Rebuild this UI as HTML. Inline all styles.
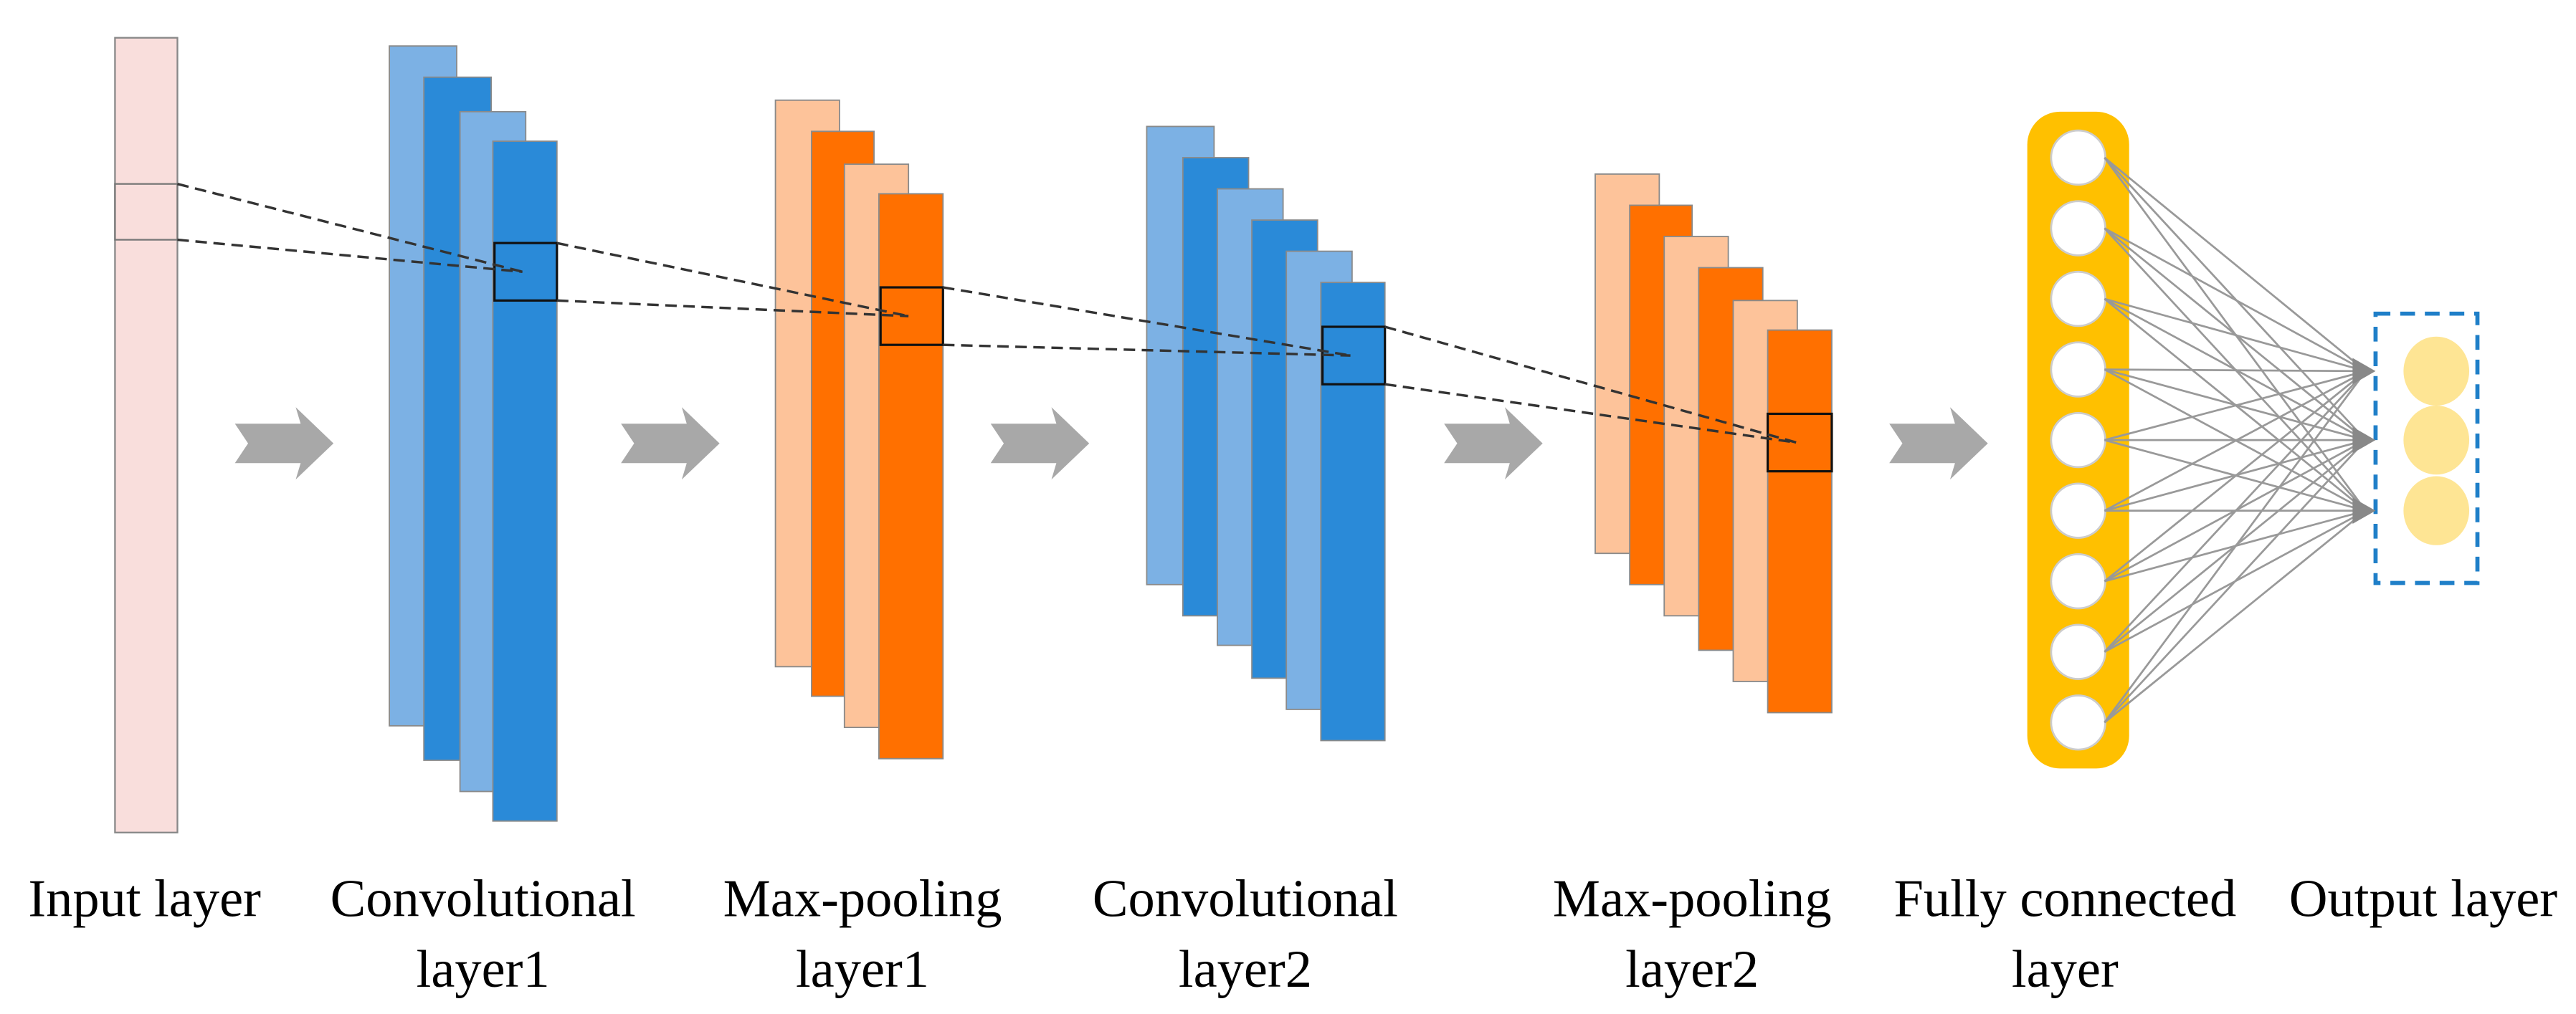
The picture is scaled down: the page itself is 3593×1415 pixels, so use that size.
<!DOCTYPE html>
<html><head><meta charset="utf-8"><style>
html,body{margin:0;padding:0;background:#fff;}
svg{display:block;}
text{font-family:"Liberation Serif",serif;font-size:32.5px;fill:#000;text-anchor:middle;}
</style></head><body>
<svg id="chart" width="3593" height="1415" viewBox="0 0 1568 617.5" xmlns="http://www.w3.org/2000/svg">
<g id="layers"></g>
<g id="links"></g>
<g id="labels"></g>
</svg>
<script>
const NS="http://www.w3.org/2000/svg";
const svg=document.getElementById('chart');
const gL=document.getElementById('layers');
const gK=document.getElementById('links');
const gT=document.getElementById('labels');
function mk(tag,attrs,parent){const e=document.createElementNS(NS,tag);for(const k in attrs)e.setAttribute(k,attrs[k]);(parent||svg).appendChild(e);return e;}

const LB='#7cb1e4',DB='#2a8ad8',LO='#fdc39a',DO='#ff7000';
const conv1=[[237,278,28,442,LB],[258,299,47,463,DB],[280,320,68,482,LB],[300,339,86,500,DB]];
const pool1=[[472,511,61,406,LO],[494,532,80,424,DO],[514,553,100,443,LO],[535,574,118,462,DO]];
const conv2=[[698,739,77,356,LB],[720,760,96,375,DB],[741,781,115,393,LB],[762,802,134,413,DB],[783,823,153,432,LB],[804,843,172,451,DB]];
const pool2=[[971,1010,106,337,LO],[992,1030,125,356,DO],[1013,1052,144,375,LO],[1034,1073,163,396,DO],[1055,1094,183,415,LO],[1076,1115,201,434,DO]];

let r=mk('rect',{x:70,y:23,width:38,height:484,fill:'#f9dedc',stroke:'#888','stroke-width':1},gL);


r=mk('rect',{x:70,y:112,width:38,height:34,fill:'none',stroke:'#777','stroke-width':1},gL);



[[conv1,'conv1'],[pool1,'pool1'],[conv2,'conv2'],[pool2,'pool2']].forEach(([arr,nm])=>{
  arr.forEach((d,i)=>{
    const e=mk('rect',{x:d[0],y:d[2],width:d[1]-d[0],height:d[3]-d[2],fill:d[4],stroke:'#8a8a8a','stroke-width':0.8},gL);
    
    
  });
});

const boxes=[[301,339,148,183],[536,574,175,210],[805,843,199,234],[1076,1115,252,287]];
const srcs=[[108,112,146],[339,148,183],[574,175,210],[843,199,234]];
boxes.forEach((b,i)=>{
  const e=mk('rect',{x:b[0],y:b[2],width:b[1]-b[0],height:b[3]-b[2],fill:'none',stroke:'#111','stroke-width':1.4},gL);
  
  
  const cx=(b[0]+b[1])/2-2, cy=(b[2]+b[3])/2;
  const s=srcs[i];
  [s[1],s[2]].forEach((sy,j)=>{
    const l=mk('line',{x1:s[0],y1:sy,x2:cx,y2:cy,stroke:'#333','stroke-width':1.5,'stroke-dasharray':'7,4'},gK);
    
    
  });
});

const arrowX=[143,378,603,879,1150];
arrowX.forEach((x,i)=>{
  const y=270;
  const p=[[x,y-12],[x+40,y-12],[x+37,y-22],[x+60,y],[x+37,y+22],[x+40,y+12],[x,y+12],[x+8,y]].map(q=>q.join(',')).join(' ');
  const e=mk('polygon',{points:p,fill:'#a8a8a8'},gL);
  
  
});

r=mk('rect',{x:1234,y:68,width:62,height:400,rx:20,ry:20,fill:'#ffc000'},gL);


const fcY=[96,139,182,225,268,311,354,397,440];
const outY=[226,268,311];
fcY.forEach(y=>{
  outY.forEach(oy=>{
    const l=mk('line',{x1:1281,y1:y,x2:1440,y2:oy,stroke:'#999','stroke-width':1.2},gK);
    
    
  });
});
outY.forEach(oy=>{
  const e=mk('polygon',{points:`1432,${oy-8} 1446,${oy} 1432,${oy+8}`,fill:'#888'},gK);
  
  
});
fcY.forEach((y,i)=>{
  const c=mk('circle',{cx:1265,cy:y,r:16.5,fill:'#fff',stroke:'#ccc','stroke-width':1.2},gL);
  
  
});
r=mk('rect',{x:1446,y:191,width:62,height:164,fill:'none',stroke:'#1f7fc8','stroke-width':2.5,'stroke-dasharray':'9,6'},gL);


outY.forEach((y,i)=>{
  const c=mk('ellipse',{cx:1483,cy:y,rx:20,ry:21,fill:'#fee594'},gL);
  
  
});

const labelX=[88,294,525,758,1030,1257,1475];
const labelL1=['Input layer','Convolutional','Max-pooling','Convolutional','Max-pooling','Fully connected','Output layer'];
const labelL2=['','layer1','layer1','layer2','layer2','layer',''];
labelX.forEach((x,i)=>{
  const t=mk('text',{x:x,y:558},gT);t.textContent=labelL1[i];
  
  
  if(labelL2[i]){
    const t2=mk('text',{x:x,y:601},gT);t2.textContent=labelL2[i];
    
    
  }
});
</script>
</body></html>
